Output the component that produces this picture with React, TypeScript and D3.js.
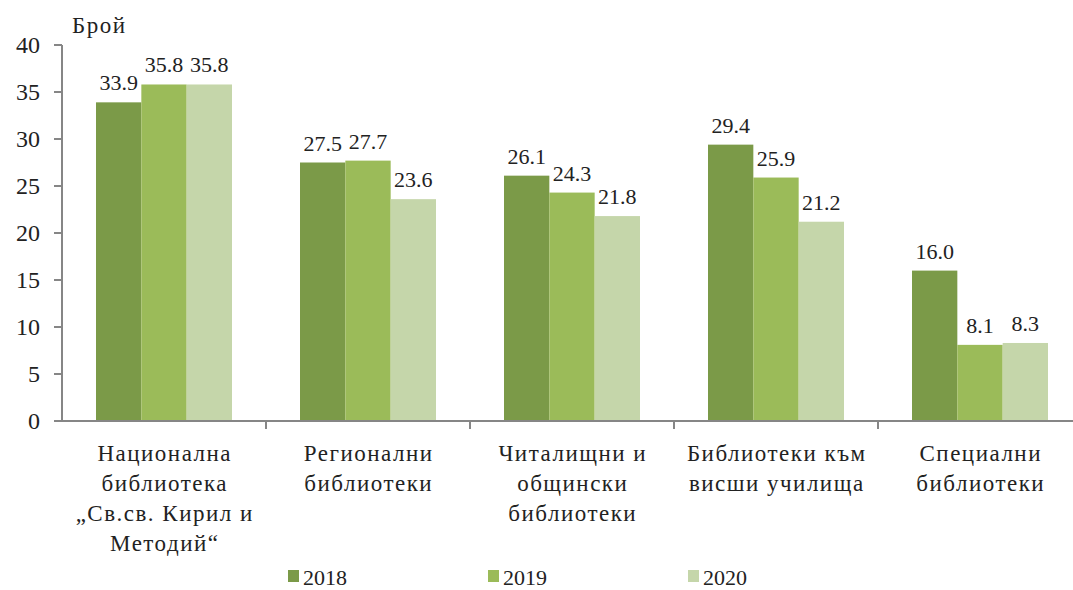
import * as d3 from "d3";

const categories = [
  ["Национална", "библиотека", "„Св.св. Кирил и", "Методий“"],
  ["Регионални", "библиотеки"],
  ["Читалищни и", "общински", "библиотеки"],
  ["Библиотеки към", "висши училища"],
  ["Специални", "библиотеки"],
];
const years = ["2018", "2019", "2020"];
const values2018 = [33.9, 27.5, 26.1, 29.4, 16.0];
const values2019 = [35.8, 27.7, 24.3, 25.9, 8.1];
const values2020 = [35.8, 23.6, 21.8, 21.2, 8.3];
const yTicks = [0, 5, 10, 15, 20, 25, 30, 35, 40];
const colors = ["#7b9a48", "#9bbb59", "#c5d6aa"];

const series = [values2018, values2019, values2020];
const font = '"Liberation Serif", "Times New Roman", Tinos, "DejaVu Serif", serif';

export default function App() {
  const W = 1073;
  const H = 590;
  const keys = categories.map((c, i) => String(i));
  const x0 = d3.scaleBand().domain(keys).range([62, 1082]);
  const x1 = d3.scaleBand().domain(years).range([34, 170]);
  const y = d3.scaleLinear().domain([0, 40]).range([421, 45]);
  const axisColor = "#868686";

  return (
    <svg
      width={W}
      height={H}
      style={{ position: "absolute", left: 0, top: 0, background: "#fff", fontFamily: font }}
    >
      {/* bars */}
      {keys.map((k, ci) => (
        <g key={k} transform={`translate(${x0(k)},0)`}>
          {years.map((yr, si) => {
            const v = series[si][ci];
            const bx = x1(yr)!;
            return (
              <g key={yr}>
                <rect
                  x={bx}
                  y={y(v)}
                  width={x1.bandwidth()}
                  height={y(0) - y(v)}
                  fill={colors[si]}
                />
                <text
                  x={bx + x1.bandwidth() / 2}
                  y={y(v) - 12}
                  textAnchor="middle"
                  fontSize={22}
                  fill="#222"
                >
                  {v.toFixed(1)}
                </text>
              </g>
            );
          })}
        </g>
      ))}

      {/* y axis */}
      <line x1={62} x2={62} y1={y(40)} y2={y(0)} stroke={axisColor} strokeWidth={2} />
      {yTicks.map((t) => (
        <g key={t}>
          <line x1={54} x2={62} y1={y(t)} y2={y(t)} stroke={axisColor} strokeWidth={2} />
          <text x={40} y={y(t)} dy="0.35em" textAnchor="end" fontSize={24} fill="#222">
            {t}
          </text>
        </g>
      ))}
      <text x={72} y={33} fontSize={23} letterSpacing={1.5} fill="#222">
        Брой
      </text>

      {/* x axis */}
      <line x1={62} x2={W} y1={y(0)} y2={y(0)} stroke={axisColor} strokeWidth={2} />
      {keys.map((k) => (
        <line
          key={k}
          x1={x0(k)! + x0.bandwidth()}
          x2={x0(k)! + x0.bandwidth()}
          y1={y(0)}
          y2={y(0) + 8}
          stroke={axisColor}
          strokeWidth={2}
        />
      ))}
      {categories.map((lines, ci) => {
        const cx = x0(keys[ci])! + x0.bandwidth() / 2 + 0.75;
        return (
          <text
            key={ci}
            x={cx}
            textAnchor="middle"
            fontSize={23}
            letterSpacing={1.5}
            fill="#222"
          >
            {lines.map((ln, li) => (
              <tspan key={li} x={cx} y={461 + li * 30}>
                {ln}
              </tspan>
            ))}
          </text>
        );
      })}

      {/* legend */}
      {years.map((yr, i) => (
        <g key={yr} transform={`translate(${288 + i * 200},0)`}>
          <rect x={0} y={570} width={11} height={12} fill={colors[i]} />
          <text x={15} y={585} fontSize={22} fill="#222">
            {yr}
          </text>
        </g>
      ))}
    </svg>
  );
}
